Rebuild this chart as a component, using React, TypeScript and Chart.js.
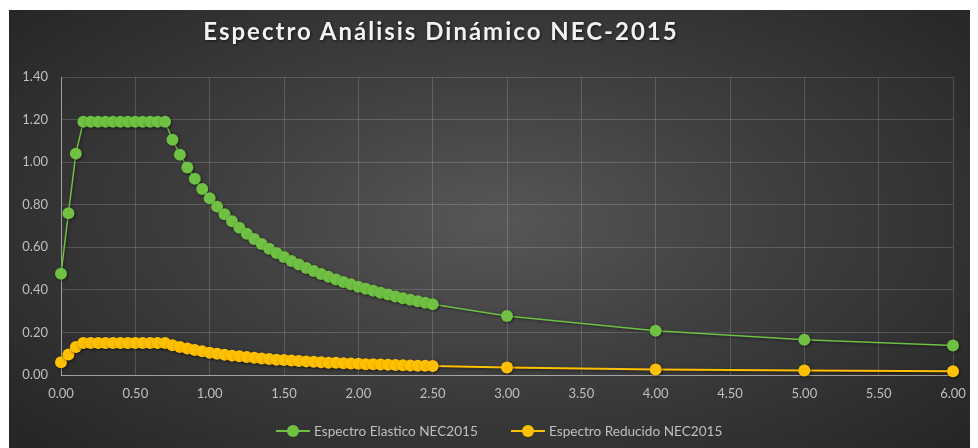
import React, { useEffect, useRef } from "react";
import { Chart, registerables } from "chart.js";

Chart.register(...registerables);

// Periodo T (s)
const periods = [
  0, 0.05, 0.1, 0.15, 0.2, 0.25, 0.3, 0.35, 0.4, 0.45, 0.5, 0.55, 0.6, 0.65, 0.7,
  0.75, 0.8, 0.85, 0.9, 0.95, 1.0, 1.05, 1.1, 1.15, 1.2, 1.25, 1.3, 1.35, 1.4, 1.45,
  1.5, 1.55, 1.6, 1.65, 1.7, 1.75, 1.8, 1.85, 1.9, 1.95, 2.0, 2.05, 2.1, 2.15, 2.2,
  2.25, 2.3, 2.35, 2.4, 2.45, 2.5, 3.0, 4.0, 5.0, 6.0,
];

// Sa elástico (g)
const elastico = [
  0.476, 0.76, 1.04, 1.19, 1.19, 1.19, 1.19, 1.19, 1.19, 1.19, 1.19, 1.19, 1.19, 1.19, 1.19,
  1.105, 1.035, 0.975, 0.922, 0.874, 0.83, 0.791, 0.755, 0.722, 0.692, 0.664, 0.639, 0.615, 0.593, 0.573,
  0.554, 0.536, 0.519, 0.503, 0.489, 0.475, 0.461, 0.449, 0.437, 0.426, 0.415, 0.405, 0.396, 0.386, 0.378,
  0.369, 0.361, 0.354, 0.346, 0.339, 0.332, 0.277, 0.208, 0.166, 0.139,
];

// Sa reducido (g)
const reducido = [
  0.06, 0.096, 0.131, 0.15, 0.15, 0.15, 0.15, 0.15, 0.15, 0.15, 0.15, 0.15, 0.15, 0.15, 0.15,
  0.14, 0.131, 0.124, 0.117, 0.111, 0.105, 0.1, 0.095, 0.091, 0.088, 0.084, 0.081, 0.078, 0.075, 0.072,
  0.07, 0.068, 0.066, 0.064, 0.062, 0.06, 0.058, 0.057, 0.055, 0.054, 0.053, 0.051, 0.05, 0.049, 0.048,
  0.047, 0.046, 0.045, 0.044, 0.043, 0.042, 0.035, 0.026, 0.021, 0.018,
];

const TITLE = "Espectro Análisis Dinámico NEC-2015";
const SERIES_NAMES = ["Espectro Elastico NEC2015", "Espectro Reducido NEC2015"];
const COLORS = ["#6fc043", "#ffc000"];

const FONT = "Lato, 'Open Sans', sans-serif";
const W = 969;
const H = 438;

const toPoints = (ys: number[]) => periods.map((t, i) => ({ x: t, y: ys[i] }));

// soft drop shadow under the markers
const shadowPlugin = {
  id: "markerShadow",
  beforeDatasetsDraw(chart: any) {
    const ctx = chart.ctx;
    ctx.save();
    ctx.shadowColor = "rgba(0,0,0,0.55)";
    ctx.shadowBlur = 3;
    ctx.shadowOffsetX = 1;
    ctx.shadowOffsetY = 1;
  },
  afterDatasetsDraw(chart: any) {
    chart.ctx.restore();
  },
};

function LegendItem({ color, label, left }: { color: string; label: string; left: number }) {
  return (
    <div
      style={{
        position: "absolute",
        left,
        top: 413,
        display: "flex",
        alignItems: "center",
        height: 16,
        fontFamily: FONT,
        fontSize: 13.6,
        color: "#bfbfbf",
        whiteSpace: "nowrap",
      }}
    >
      <div style={{ position: "relative", width: 34, height: 16, marginRight: 4 }}>
        <div
          style={{
            position: "absolute",
            left: 0,
            right: 0,
            top: 7,
            height: 2,
            background: color,
          }}
        />
        <div
          style={{
            position: "absolute",
            left: 11,
            top: 2,
            width: 12,
            height: 12,
            borderRadius: "50%",
            background: color,
          }}
        />
      </div>
      <span>{label}</span>
    </div>
  );
}

export default function App() {
  const canvasRef = useRef<HTMLCanvasElement | null>(null);

  useEffect(() => {
    if (!canvasRef.current) return;
    const tickColor = "#bfbfbf";
    const chart = new Chart(canvasRef.current, {
      type: "line",
      data: {
        datasets: [
          {
            label: SERIES_NAMES[0],
            data: toPoints(elastico),
            borderColor: COLORS[0],
            backgroundColor: COLORS[0],
            borderWidth: 1.5,
            pointRadius: 6,
            pointBorderWidth: 0,
            pointHoverRadius: 6,
            tension: 0,
            clip: false as any,
          },
          {
            label: SERIES_NAMES[1],
            data: toPoints(reducido),
            borderColor: COLORS[1],
            backgroundColor: COLORS[1],
            borderWidth: 2,
            pointRadius: 6,
            pointBorderWidth: 0,
            pointHoverRadius: 6,
            tension: 0,
            clip: false as any,
          },
        ],
      },
      options: {
        responsive: false,
        animation: false,
        layout: { padding: { top: 67, right: 25, bottom: 33, left: 0 } },
        plugins: {
          legend: { display: false },
          title: { display: false },
          tooltip: { enabled: false },
        },
        scales: {
          x: {
            type: "linear",
            min: 0,
            max: 6,
            ticks: {
              stepSize: 0.5,
              color: tickColor,
              font: { family: FONT, size: 13 },
              padding: 11,
              maxRotation: 0,
              callback: (v: any) => Number(v).toFixed(2),
            },
            grid: { color: "rgba(255,255,255,0.16)", drawTicks: false, lineWidth: 1 },
            border: { color: "rgba(255,255,255,0.45)", width: 1 },
            afterFit: (s: any) => {
              s.height = 40;
            },
          },
          y: {
            type: "linear",
            min: 0,
            max: 1.4,
            ticks: {
              stepSize: 0.2,
              color: tickColor,
              font: { family: FONT, size: 13 },
              padding: 13,
              callback: (v: any) => Number(v).toFixed(2),
            },
            grid: { color: "rgba(255,255,255,0.16)", drawTicks: false, lineWidth: 1 },
            border: { color: "rgba(255,255,255,0.45)", width: 1 },
            afterFit: (s: any) => {
              s.width = 52;
            },
          },
        },
      },
      plugins: [shadowPlugin],
    });
    return () => chart.destroy();
  }, []);

  return (
    <div
      style={{
        position: "relative",
        width: W,
        height: H,
        marginLeft: 1,
        marginTop: 2,
        background:
          "radial-gradient(ellipse 65% 75% at 50% 48%, #575757 0%, #3f3f3f 45%, #262626 100%)",
        overflow: "hidden",
      }}
    >
      <canvas ref={canvasRef} width={W} height={H} style={{ display: "block" }} />
      <div
        style={{
          position: "absolute",
          left: 132,
          top: 6,
          width: 600,
          textAlign: "center",
          fontFamily: FONT,
          fontWeight: 700,
          fontSize: 24,
          letterSpacing: 2,
          color: "#f2f2f2",
          textShadow: "1px 1px 3px rgba(0,0,0,0.6)",
          whiteSpace: "nowrap",
        }}
      >
        {TITLE}
      </div>
      <LegendItem color={COLORS[0]} label={SERIES_NAMES[0]} left={267} />
      <LegendItem color={COLORS[1]} label={SERIES_NAMES[1]} left={502} />
    </div>
  );
}
